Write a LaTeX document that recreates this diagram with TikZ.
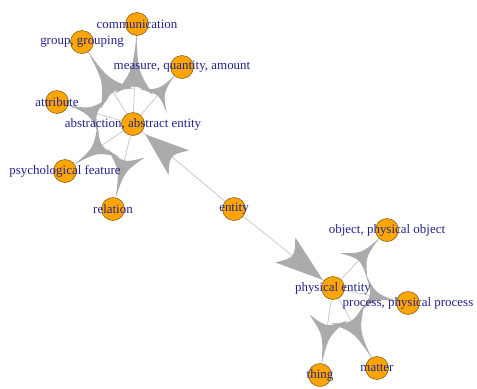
\documentclass[tikz,border=0pt]{standalone}
\usepackage{fontspec}
\setmainfont{Liberation Serif}
\usetikzlibrary{calc,backgrounds}

\definecolor{vfill}{HTML}{FFA500}
\definecolor{vline}{HTML}{6E5310}
\definecolor{lbl}{HTML}{22228C}
\definecolor{ehead}{HTML}{ABABAB}
\definecolor{eline}{HTML}{CACACA}

% tip side node, other node, tip offset, length, half width
\newcommand\headwedge[5]{%
  \path ($(#1)!#3!(#2)$) coordinate (hw-t)
        ($(#1)!#3+#4!(#2)$) coordinate (hw-m)
        ($(#1)!#3+#4-12bp!(#2)$) coordinate (hw-n);
  \fill[hd] (hw-t) -- ($(hw-m)!#5!90:(hw-t)$) .. controls (hw-n) .. ($(hw-m)!#5!-90:(hw-t)$) -- cycle;
}
% leaf node, centre node: spike from the leaf, wide base near the centre
\newcommand\spikewedge[2]{%
  \path ($(#1)!13bp!(#2)$) coordinate (sp-t)
        ($(#2)!30bp!(#1)$) coordinate (sp-m)
        ($(#2)!40bp!(#1)$) coordinate (sp-n)
        ($(sp-t)!.6!(sp-m)$) coordinate (sp-k);
  \path ($(sp-k)!3bp!90:(sp-t)$) coordinate (sp-kl)
        ($(sp-k)!3bp!-90:(sp-t)$) coordinate (sp-kr);
  \fill[hd] (sp-t) .. controls (sp-kl) .. ($(sp-m)!19bp!90:(sp-t)$) .. controls (sp-n) .. ($(sp-m)!19bp!-90:(sp-t)$) .. controls (sp-kr) .. (sp-t) -- cycle;
}

\begin{document}
\begin{tikzpicture}[x=1bp, y=-1bp, c/.style={circle, draw=vline, fill=vfill, line width=.5bp, minimum size=23bp, inner sep=0pt}, lb/.style={text=lbl, font=\fontsize{13}{15}\selectfont, inner sep=0pt}, e/.style={draw=eline, line width=.8bp}, hd/.style={fill=ehead}]
	\useasboundingbox (0,0) rectangle (477,388);

	\node[c] (abs) at (133,124) {};
	\node[c] (comm) at (137,24) {};
	\node[c] (grp) at (82,42) {};
	\node[c] (meas) at (182,67) {};
	\node[c] (attr) at (57,102) {};
	\node[c] (psy) at (65,171) {};
	\node[c] (rel) at (113,209) {};
	\node[c] (ent) at (234,209) {};
	\node[c] (phy) at (333,288) {};
	\node[c] (obj) at (387,230) {};
	\node[c] (proc) at (408,303) {};
	\node[c] (thing) at (320,375) {};
	\node[c] (mat) at (377,368) {};

	\begin{scope}[on background layer]
		\path[e] (ent) edge (abs) (ent) edge (phy);
		\foreach \n in {comm,grp,meas,attr,psy,rel} \path[e] (abs) edge (\n);
		\foreach \n in {obj,proc,thing,mat} \path[e] (phy) edge (\n);

		\headwedge{abs}{ent}{16bp}{44bp}{16bp}
		\headwedge{phy}{ent}{13bp}{48bp}{16bp}
		\foreach \n in {comm,grp,meas,attr,psy,rel} {\spikewedge{\n}{abs}}
		\foreach \n in {obj,proc,thing,mat} {\spikewedge{\n}{phy}}
	\end{scope}

	\node[lb] (abs_label) at (abs) {abstraction, abstract entity};
	\node[lb] (comm_label) at (comm) {communication};
	\node[lb] (grp_label) at (grp) {group, grouping};
	\node[lb] (meas_label) at (meas) {measure, quantity, amount};
	\node[lb] (attr_label) at (attr) {attribute};
	\node[lb] (psy_label) at (psy) {psychological feature};
	\node[lb] (rel_label) at (rel) {relation};
	\node[lb] (ent_label) at (ent) {entity};
	\node[lb] (phy_label) at (phy) {physical entity};
	\node[lb] (obj_label) at (obj) {object, physical object};
	\node[lb] (proc_label) at (proc) {process, physical process};
	\node[lb] (thing_label) at (thing) {thing};
	\node[lb] (mat_label) at (mat) {matter};
\end{tikzpicture}
\end{document}
